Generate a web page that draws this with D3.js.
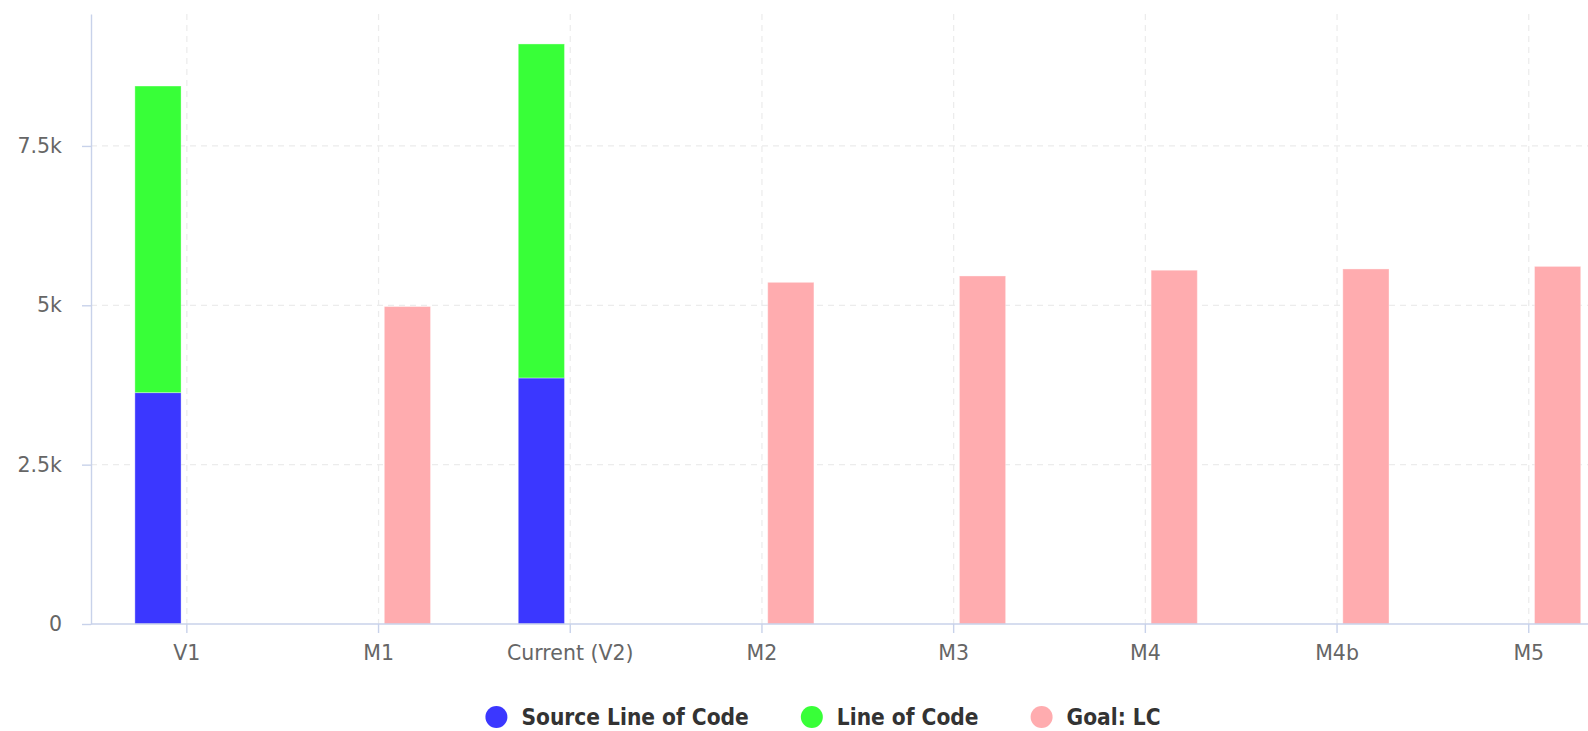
<!doctype html>
<html>
<head>
<meta charset="utf-8">
<title>Lines of code vs goals</title>
<script src="https://d3js.org/d3.v7.min.js"></script>
<style>
    body { margin: 0; background: #fff; overflow: hidden; }
    .axis text { font-family: "DejaVu Sans", sans-serif; font-size: 20.5px; fill: #666; }
    .axis path, .axis line { stroke: #c8d2ea; stroke-width: 1.4; }
    .grid line { stroke: #ececec; stroke-width: 1.2; stroke-dasharray: 6,5; }
    .legend text { font-family: "DejaVu Sans Condensed", "DejaVu Sans", sans-serif; font-weight: bold; font-size: 22.5px; fill: #333; }
</style>
</head>
<body>
<div id="chart"></div>
<script>
// chart values
const categories = ["V1", "M1", "Current (V2)", "M2", "M3", "M4", "M4b", "M5"];
const slocValues = [3630, 0, 3860, 0, 0, 0, 0, 0];
const locValues  = [4810, 0, 5240, 0, 0, 0, 0, 0];
const goalValues = [0, 4980, 0, 5360, 5460, 5550, 5570, 5610];
const yTicks = [0, 2500, 5000, 7500];
const seriesNames = ["Source Line of Code", "Line of Code", "Goal: LC"];
const seriesColors = ["#3b37ff", "#38ff38", "#ffacaf"];

const w = 1588, h = 731;
const margin = {top: 14, left: 91, bottom: 107};
const step = 191.7;   // plot runs past the right edge of the window
const yMax = 9570;

const svg = d3.select("#chart").append("svg")
    .attr("width", w).attr("height", h);

const x = d3.scaleBand()
    .domain(categories)
    .range([margin.left, margin.left + step * categories.length]);

const xSub = d3.scaleBand()
    .domain(["stack", "goal"])
    .range([0, x.bandwidth()])
    .paddingInner(0.2)
    .paddingOuter(0.76);

const y = d3.scaleLinear()
    .domain([0, yMax])
    .range([h - margin.bottom, margin.top]);

// grid
svg.append("g").attr("class", "grid")
    .selectAll("line.h").data(yTicks.slice(1)).enter().append("line")
    .attr("x1", margin.left).attr("x2", w)
    .attr("y1", d => y(d)).attr("y2", d => y(d));

svg.select(".grid")
    .selectAll("line.v").data(categories).enter().append("line")
    .attr("x1", d => x(d) + x.bandwidth() / 2).attr("x2", d => x(d) + x.bandwidth() / 2)
    .attr("y1", margin.top).attr("y2", y(0));

// stacked bars
const table = categories.map((c, i) => ({cat: c, sloc: slocValues[i], loc: locValues[i]}));
const stacked = d3.stack().keys(["sloc", "loc"])(table);

svg.append("g").selectAll("g")
    .data(stacked).enter().append("g")
    .attr("fill", (d, i) => seriesColors[i])
    .selectAll("rect")
    .data(d => d.filter(p => p[1] - p[0] > 0))
    .enter().append("rect")
    .attr("x", d => x(d.data.cat) + xSub("stack"))
    .attr("width", xSub.bandwidth())
    .attr("y", d => y(d[1]))
    .attr("height", d => y(d[0]) - y(d[1]))
    .attr("stroke", "rgba(255,255,255,0.35)")
    .attr("stroke-width", 1);

// goal bars
svg.append("g").selectAll("rect")
    .data(categories.map((c, i) => ({cat: c, v: goalValues[i]})).filter(d => d.v > 0))
    .enter().append("rect")
    .attr("fill", seriesColors[2])
    .attr("x", d => x(d.cat) + xSub("goal"))
    .attr("width", xSub.bandwidth())
    .attr("y", d => y(d.v))
    .attr("height", d => y(0) - y(d.v))
    .attr("stroke", "rgba(255,255,255,0.35)")
    .attr("stroke-width", 1);

// axes
const xAxis = d3.axisBottom(x).tickSize(9).tickSizeOuter(0).tickPadding(12);
svg.append("g").attr("class", "axis")
    .attr("transform", "translate(0," + y(0) + ")")
    .call(xAxis)
    .call(g => g.select(".domain").attr("d", "M" + margin.left + ",0H" + w));

const yAxis = d3.axisLeft(y)
    .tickValues(yTicks)
    .tickSize(9).tickSizeOuter(0).tickPadding(20)
    .tickFormat(d => d === 0 ? "0" : (d / 1000) + "k");
svg.append("g").attr("class", "axis")
    .attr("transform", "translate(" + margin.left + ",0)")
    .call(yAxis);

// legend
const legend = svg.append("g").attr("class", "legend");
const items = legend.selectAll("g").data(seriesNames).enter().append("g");
items.append("circle").attr("r", 11).attr("cx", 0).attr("cy", 0)
    .attr("fill", (d, i) => seriesColors[i]);
items.append("text").attr("x", 25).attr("dy", "0.35em").text(d => d);

let lx = 0;
const widths = [];
items.each(function () {
    const tw = d3.select(this).select("text").node().getComputedTextLength();
    widths.push(tw);
});
items.attr("transform", function (d, i) {
    const t = "translate(" + lx + ",0)";
    lx += 11 + 25 + widths[i] + 52;
    return t;
});
const total = lx - 52;
legend.attr("transform", "translate(" + (823 - total / 2 + 11) + ",717)");
</script>
</body>
</html>
